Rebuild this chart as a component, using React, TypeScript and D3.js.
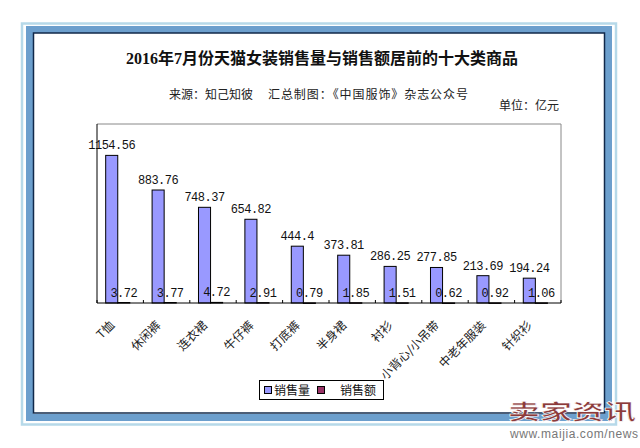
import React from "react";
import * as d3 from "d3";

// 2016年7月 天猫女装 top-10 categories
const categories = ["T恤", "休闲裤", "连衣裙", "牛仔裤", "打底裤", "半身裙", "衬衫", "小背心/小吊带", "中老年服装", "针织衫"];
const seriesNames = ["销售量", "销售额"];
const salesVolume = [1154.56, 883.76, 748.37, 654.82, 444.4, 373.81, 286.25, 277.85, 213.69, 194.24];
const salesAmount = [3.72, 3.77, 4.72, 2.91, 0.79, 1.85, 1.51, 0.62, 0.92, 1.06];
const yMax = 1400;

const W = 640;
const H = 448;
const plot = { left: 97, right: 561, top: 124, bottom: 303 };
const colors = ["#9999ff", "#993366"];
const numFont = "'Liberation Mono', 'DejaVu Sans Mono', monospace";
const cjkFont = "'Noto Sans CJK SC', sans-serif";

const App = () => {
  const x = d3
    .scaleBand<string>()
    .domain(categories)
    .range([plot.left, plot.right])
    .paddingInner(0.48)
    .paddingOuter(0.24)
    .align(0.39);

  const xSub = d3.scaleBand<string>().domain(seriesNames).range([0, x.bandwidth()]);

  const y = d3.scaleLinear().domain([0, yMax]).range([plot.bottom, plot.top]);

  // category slots (tick marks sit on their edges)
  const slot = d3.scaleBand<string>().domain(categories).range([plot.left, plot.right]);
  const boundaries = categories.map((c) => slot(c) ?? 0).concat(plot.right);

  const series = [salesVolume, salesAmount];

  return (
    <div style={{ position: "fixed", left: 0, top: 0 }}>
      <svg width={W} height={H} style={{ display: "block", background: "#fff" }}>
        {/* frame */}
        <rect x={22} y={23.5} width={594} height={401} fill="none" stroke="#b6d9e9" strokeWidth={2.5} />
        <rect x={29.5} y={29.5} width={579} height={388} fill="none" stroke="#6c9fcd" strokeWidth={7} />
        <rect x={33.5} y={33} width={571} height={380} fill="#fff" stroke="#10284a" strokeWidth={1.5} />

        {/* titles */}
        <text
          x={322}
          y={64}
          textAnchor="middle"
          fontFamily={"'Liberation Serif', 'Noto Sans CJK SC', serif"}
          fontWeight="bold"
          fontSize={16}
          fill="#111"
        >
          2016年7月份天猫女装销售量与销售额居前的十大类商品
        </text>
        <text y={99} fontFamily={cjkFont} fontSize={12} fill="#222">
          <tspan x={169}>来源：知己知彼</tspan>
          <tspan x={268} textLength={200} lengthAdjust="spacing">
            汇总制图：《中国服饰》杂志公众号
          </tspan>
        </text>
        <text x={499} y={110} fontFamily={cjkFont} fontSize={12} fill="#222">
          单位：亿元
        </text>

        {/* plot box */}
        <line x1={plot.left} x2={plot.right} y1={plot.top} y2={plot.top} stroke="#888" />
        <line x1={plot.right} x2={plot.right} y1={plot.top} y2={plot.bottom} stroke="#888" />
        <line x1={plot.left} x2={plot.left} y1={plot.top} y2={plot.bottom} stroke="#000" />

        {/* bars */}
        {categories.map((c, i) =>
          series.map((vals, s) => {
            const bx = (x(c) ?? 0) + (xSub(seriesNames[s]) ?? 0);
            const bw = xSub.bandwidth();
            const v = vals[i];
            return (
              <g key={c + s}>
                <rect
                  x={bx}
                  y={y(v)}
                  width={bw}
                  height={Math.max(0.5, y(0) - y(v))}
                  fill={colors[s]}
                  stroke="#000"
                  strokeWidth={1}
                />
                <text
                  x={bx + bw / 2}
                  y={y(v) - 6}
                  textAnchor="middle"
                  fontFamily={numFont}
                  fontSize={12}
                  letterSpacing={-0.5}
                  fill="#111"
                >
                  {v}
                </text>
              </g>
            );
          })
        )}

        {/* x axis */}
        <line x1={plot.left} x2={plot.right} y1={plot.bottom} y2={plot.bottom} stroke="#000" />
        {boundaries.map((bx, i) => (
          <line key={i} x1={bx} x2={bx} y1={plot.bottom} y2={plot.bottom - 3} stroke="#000" />
        ))}
        {categories.map((c) => (
          <text
            key={c}
            transform={`translate(${(slot(c) ?? 0) + slot.bandwidth() / 2 - 5},326) rotate(-45)`}
            textAnchor="end"
            fontFamily={cjkFont}
            fontSize={12}
            fill="#222"
          >
            {c}
          </text>
        ))}

        {/* legend */}
        <g>
          <rect x={259.5} y={380.5} width={124} height={19} fill="#fff" stroke="#000" />
          <rect x={264.5} y={386.5} width={7} height={7} fill={colors[0]} stroke="#000" />
          <text x={274} y={395} fontFamily={cjkFont} fontSize={12} fill="#111">
            {seriesNames[0]}
          </text>
          <rect x={317.5} y={386.5} width={7} height={7} fill={colors[1]} stroke="#000" />
          <text x={340} y={395} fontFamily={cjkFont} fontSize={12} fill="#111">
            {seriesNames[1]}
          </text>
        </g>

        {/* watermark */}
        <text
          x={508}
          y={419}
          fontFamily={cjkFont}
          fontWeight="bold"
          fontSize={21}
          textLength={128}
          lengthAdjust="spacingAndGlyphs"
          fill="#8c3b3b"
          stroke="#fff"
          strokeWidth={0.6}
        >
          卖家资讯
        </text>
        <text
          x={510}
          y={438}
          fontFamily={"'Liberation Sans', Arial, sans-serif"}
          fontSize={12}
          textLength={128}
          fill="#777"
        >
          www.maijia.com/news
        </text>
      </svg>
    </div>
  );
};

export default App;
